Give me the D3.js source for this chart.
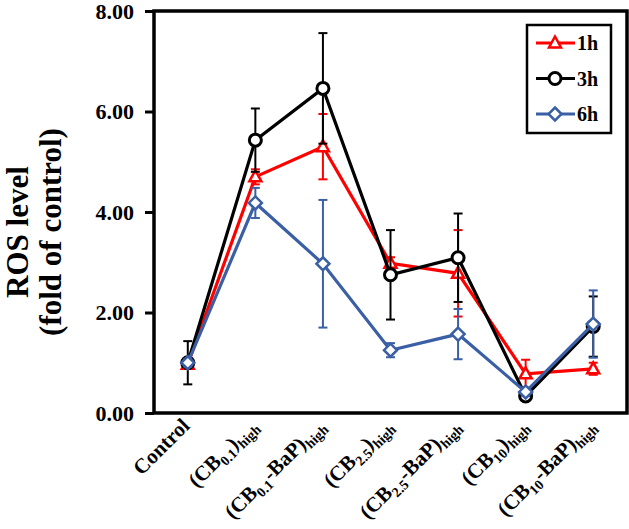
<!DOCTYPE html>
<html>
<head>
<meta charset="utf-8">
<script src="https://cdn.jsdelivr.net/npm/d3@7/dist/d3.min.js"></script>
<style>
  html, body { margin: 0; padding: 0; background: #fff; }
  svg { display: block; }
  text { font-family: "Liberation Serif", "Times New Roman", serif; font-weight: bold; }
</style>
</head>
<body>
<svg id="chart" width="629" height="529"></svg>
<script>
// ---- data ----
const categories = ["Control", "(CB0.1)high", "(CB0.1-BaP)high", "(CB2.5)high", "(CB2.5-BaP)high", "(CB10)high", "(CB10-BaP)high"];
const seriesNames = ["1h", "3h", "6h"];
const values1h = [0.97, 4.70, 5.30, 2.98, 2.78, 0.78, 0.88];
const errors1h = [0.08, 0.15, 0.65, 0.12, 0.86, 0.28, 0.12];
const values3h = [1.00, 5.43, 6.46, 2.75, 3.09, 0.34, 1.72];
const errors3h = [0.43, 0.63, 1.10, 0.89, 0.88, 0.08, 0.60];
const values6h = [1.00, 4.18, 2.97, 1.25, 1.57, 0.42, 1.77];
const errors6h = [0.08, 0.30, 1.27, 0.14, 0.50, 0.08, 0.67];
const yTicks = [0, 2, 4, 6, 8];
const yTitle1 = "ROS level";
const yTitle2 = "(fold of control)";

// ---- layout ----
const svg = d3.select("#chart");
const L = 154, R = 627, T = 11, B = 413;
const x = d3.scalePoint().domain(categories).range([L, R]).padding(0.5);
const y = d3.scaleLinear().domain([0, 8]).range([B, T]);

const series = [
  { name: seriesNames[0], vals: values1h, errs: errors1h, color: "#FF0000", marker: "triangle" },
  { name: seriesNames[1], vals: values3h, errs: errors3h, color: "#000000", marker: "circle" },
  { name: seriesNames[2], vals: values6h, errs: errors6h, color: "#3A5FA5", marker: "diamond" }
];

function drawMarker(g, type, color) {
  if (type === "triangle") {
    g.append("path").attr("d", "M0,-6.5 L6,4.5 L-6,4.5 Z")
      .attr("fill", "#fff").attr("stroke", color).attr("stroke-width", 2.5);
  } else if (type === "circle") {
    g.append("circle").attr("r", 6)
      .attr("fill", "#fff").attr("stroke", color).attr("stroke-width", 3);
  } else {
    g.append("path").attr("d", "M0,-6.5 L6.5,0 L0,6.5 L-6.5,0 Z")
      .attr("fill", "#fff").attr("stroke", color).attr("stroke-width", 2.5);
  }
}

// y axis
const yAxis = d3.axisLeft(y).tickValues(yTicks).tickFormat(d3.format(".2f")).tickSize(9).tickPadding(11);
const yg = svg.append("g").attr("transform", `translate(${L},0)`).call(yAxis);
yg.select(".domain").remove();
yg.selectAll(".tick line").attr("stroke", "#000").attr("stroke-width", 3);
yg.selectAll(".tick text").attr("font-size", 22).attr("font-family", "Liberation Serif")
  .attr("font-weight", "bold").attr("fill", "#000");

// frame
svg.append("rect").attr("x", L).attr("y", T).attr("width", R - L).attr("height", B - T)
  .attr("fill", "none").attr("stroke", "#000").attr("stroke-width", 3.5);

// y title
svg.append("text").attr("transform", `translate(28,232) rotate(-90)`)
  .attr("text-anchor", "middle").attr("font-size", 31).text(yTitle1);
svg.append("text").attr("transform", `translate(61,232) rotate(-90)`)
  .attr("text-anchor", "middle").attr("font-size", 31).text(yTitle2);

// x labels
categories.forEach(c => {
  const t = svg.append("text")
    .attr("transform", `translate(${x(c) + 3},427) rotate(-45)`)
    .attr("text-anchor", "end").attr("font-size", 21);
  const m = c.match(/^\(CB([\d.]+)(.*)\)high$/);
  if (!m) { t.text(c); return; }
  t.append("tspan").text("(CB");
  t.append("tspan").attr("font-size", 14).attr("dy", 5).text(m[1]);
  t.append("tspan").attr("dy", -5).text(m[2] + ")");
  t.append("tspan").attr("font-size", 14).attr("dy", 5).text("high");
});

// series
series.forEach(s => {
  const g = svg.append("g");
  const data = categories.map((c, i) => ({ c, v: s.vals[i], e: s.errs[i] }));
  const eg = g.append("g").attr("stroke", s.color).attr("stroke-width", 2);
  data.forEach(d => {
    const cx = x(d.c);
    eg.append("line").attr("x1", cx).attr("x2", cx).attr("y1", y(d.v - d.e)).attr("y2", y(d.v + d.e));
    eg.append("line").attr("x1", cx - 4.5).attr("x2", cx + 4.5).attr("y1", y(d.v - d.e)).attr("y2", y(d.v - d.e));
    eg.append("line").attr("x1", cx - 4.5).attr("x2", cx + 4.5).attr("y1", y(d.v + d.e)).attr("y2", y(d.v + d.e));
  });
  g.append("path").datum(data)
    .attr("d", d3.line().x(d => x(d.c)).y(d => y(d.v)))
    .attr("fill", "none").attr("stroke", s.color).attr("stroke-width", 3.2);
  data.forEach(d => {
    const mg = g.append("g").attr("transform", `translate(${x(d.c)},${y(d.v)})`);
    drawMarker(mg, s.marker, s.color);
  });
});

// legend
svg.append("rect").attr("x", 527).attr("y", 25).attr("width", 84).attr("height", 108)
  .attr("fill", "#fff").attr("stroke", "#000").attr("stroke-width", 2.5);
series.forEach((s, i) => {
  const ly = 43 + i * 35.5;
  svg.append("line").attr("x1", 536).attr("x2", 575).attr("y1", ly).attr("y2", ly)
    .attr("stroke", s.color).attr("stroke-width", 3.2);
  const mg = svg.append("g").attr("transform", `translate(555,${ly})`);
  drawMarker(mg, s.marker, s.color);
  svg.append("text").attr("x", 577).attr("y", ly + 7).attr("font-size", 20).text(s.name);
});
</script>
</body>
</html>
